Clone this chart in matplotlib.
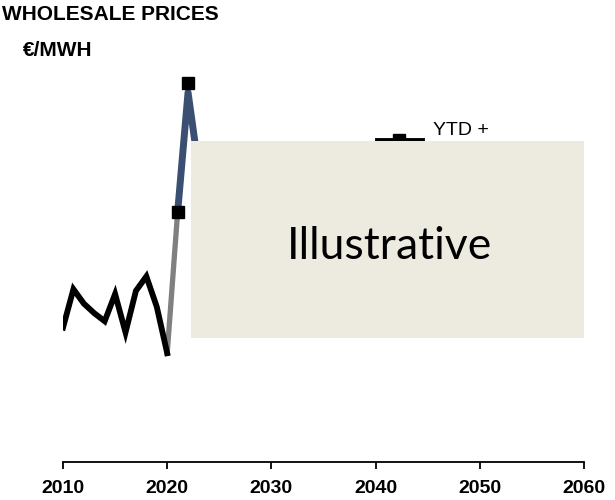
import matplotlib.pyplot as plt
from matplotlib.lines import Line2D
from matplotlib.patches import Rectangle

# historical prices (black), bridge year (grey), current/forward (blue)
hist_years = [2010, 2011, 2012, 2013, 2014, 2015, 2016, 2017, 2018, 2019, 2020]
hist_vals = [84, 108, 99, 93, 88, 105, 81, 107, 116, 97, 68]
bridge_years = [2020, 2021]
bridge_vals = [68, 156]
fwd_years = [2021, 2022, 2023]
fwd_vals = [156, 231, 184]
ytd_years = [2021, 2022]
ytd_vals = [156, 237]

xticks = [2010, 2020, 2030, 2040, 2050, 2060]

plt.rcParams['font.family'] = ['Liberation Sans', 'DejaVu Sans']

fig = plt.figure(figsize=(6.15, 5), dpi=100)
ax = fig.add_axes([63/615, 0.076, 521/615, 0.8])

ax.plot(hist_years, hist_vals, color='black', lw=4.2, solid_joinstyle='miter', zorder=3)
ax.plot(bridge_years, bridge_vals, color='#808080', lw=3.8, zorder=2)
ax.plot(fwd_years, fwd_vals, color='#3B4F72', lw=5, solid_joinstyle='round', zorder=2)
ax.plot(ytd_years, ytd_vals, ls='none', marker='s', ms=8.5, color='black', zorder=4)

ax.set_xlim(2010, 2060)
ax.set_ylim(0, 250)
ax.set_xticks(xticks)
ax.set_xticklabels([str(x) for x in xticks], fontweight='bold', fontsize=14)
ax.tick_params(axis='x', direction='out', length=5, width=1.3, pad=8)
ax.tick_params(axis='y', left=False, labelleft=False)
for s in ['top', 'right', 'left']:
    ax.spines[s].set_visible(False)
ax.spines['bottom'].set_linewidth(1.3)

# legend entry, partly covered by the illustrative box
handle = Line2D([], [], color='black', lw=3.5, marker='s', ms=9)
leg = ax.legend([handle], ['YTD +\nforward'], loc='center left',
                bbox_to_anchor=(0.6027, 0.805), frameon=False, fontsize=14,
                handlelength=2.3, handletextpad=0.57, labelspacing=0.3,
                borderpad=0, borderaxespad=0)

box = Rectangle((0.2457, 0.31), 0.7543, 0.4925, transform=ax.transAxes,
                facecolor='#EDEAE0', edgecolor='none', zorder=10, clip_on=False)
ax.add_artist(box)
ax.text(0.6265, 0.538, 'Illustrative', transform=ax.transAxes, ha='center', va='center',
        fontsize=32, family=['Lato', 'DejaVu Sans'], color='black', zorder=11)

fig.text(0.003, 0.971, 'WHOLESALE PRICES', fontweight='bold', fontsize=15, va='center')
fig.text(0.037, 0.899, '€/MWH', fontweight='bold', fontsize=15, va='center')

fig.savefig('out.png', dpi=100)
